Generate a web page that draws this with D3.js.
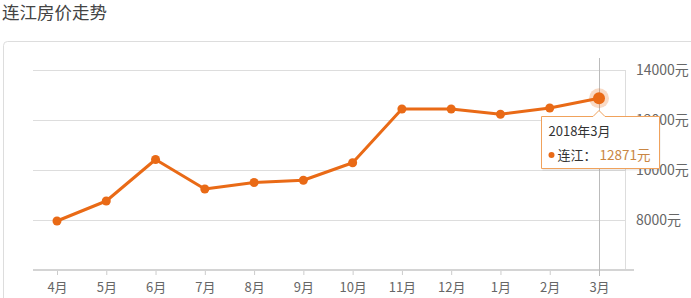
<!DOCTYPE html>
<html>
<head>
<meta charset="utf-8">
<script src="https://cdn.jsdelivr.net/npm/d3@7"></script>
<style>
  body { margin: 0; background: #fff; }
  svg { display: block; font-family: "Noto Sans CJK SC", "Noto Sans", sans-serif; }
</style>
</head>
<body>
<svg width="691" height="298"></svg>
<script>
// data
var months = ["4月", "5月", "6月", "7月", "8月", "9月", "10月", "11月", "12月", "1月", "2月", "3月"];
var prices = [7960, 8760, 10420, 9240, 9500, 9590, 10290, 12440, 12440, 12230, 12480, 12871];
var yTicks = [8000, 10000, 12000, 14000];
var city = "连江";
var tipTitle = "2018年3月";

var svg = d3.select("svg");
var lineColor = "#e96a16";

// title
svg.append("text")
  .attr("x", 2).attr("y", 19)
  .attr("font-size", 17.5).attr("fill", "#444")
  .text("连江房价走势");

// outer panel
svg.append("rect")
  .attr("x", 3.5).attr("y", 41.5)
  .attr("width", 720).attr("height", 300)
  .attr("rx", 4)
  .attr("fill", "#fff").attr("stroke", "#ddd");

var x = d3.scalePoint().domain(months).range([57, 599]);
var y = d3.scaleLinear().domain([6000, 14000]).range([270, 70]);

// grid lines
svg.append("g").selectAll("line")
  .data(yTicks)
  .enter().append("line")
  .attr("x1", 33).attr("x2", 625)
  .attr("y1", function (d) { return Math.round(y(d)) + 0.5; })
  .attr("y2", function (d) { return Math.round(y(d)) + 0.5; })
  .attr("stroke", "#ddd");

// right edge of plot
svg.append("line")
  .attr("x1", 625.5).attr("x2", 625.5)
  .attr("y1", 70).attr("y2", 270)
  .attr("stroke", "#ddd");

// y labels on the right
svg.append("g").selectAll("text")
  .data(yTicks)
  .enter().append("text")
  .attr("x", 636)
  .attr("y", function (d) { return y(d) + 5; })
  .attr("font-size", 14).attr("fill", "#666")
  .text(function (d) { return d + "元"; });

// x axis
var xAxis = d3.axisBottom(x).tickSize(5).tickPadding(8);
var gx = svg.append("g")
  .attr("transform", "translate(0,270)")
  .call(xAxis);
gx.select(".domain").remove();
gx.selectAll(".tick line").attr("stroke", "#ccc");
gx.selectAll(".tick text")
  .attr("font-size", 13).attr("fill", "#666")
  .attr("font-family", "'Noto Sans CJK SC', sans-serif");
svg.append("line")
  .attr("x1", 33).attr("x2", 634)
  .attr("y1", 270).attr("y2", 270)
  .attr("stroke", "#d4d4d4").attr("stroke-width", 2);

// crosshair
var last = months.length - 1;
svg.append("line")
  .attr("x1", x(months[last]) + 0.5).attr("x2", x(months[last]) + 0.5)
  .attr("y1", 58).attr("y2", 276)
  .attr("stroke", "#bbb");

// line
var line = d3.line()
  .x(function (d, i) { return x(months[i]); })
  .y(function (d) { return y(d); });

svg.append("path")
  .datum(prices)
  .attr("d", line)
  .attr("fill", "none")
  .attr("stroke", lineColor)
  .attr("stroke-width", 3)
  .attr("stroke-linejoin", "round");

svg.append("g").selectAll("circle")
  .data(prices)
  .enter().append("circle")
  .attr("cx", function (d, i) { return x(months[i]); })
  .attr("cy", function (d) { return y(d); })
  .attr("r", 4.5)
  .attr("fill", lineColor);

// highlighted point
var hx = x(months[last]), hy = y(prices[last]);
svg.append("circle")
  .attr("cx", hx).attr("cy", hy).attr("r", 10)
  .attr("fill", lineColor).attr("opacity", 0.25);
svg.append("circle")
  .attr("cx", hx).attr("cy", hy).attr("r", 6)
  .attr("fill", lineColor);

// tooltip
var tip = svg.append("g");
var tx = 541.5, ty = 116.5, tw = 118, th = 52;
tip.append("rect")
  .attr("x", tx + 1).attr("y", ty + 2)
  .attr("width", tw).attr("height", th)
  .attr("fill", "#000").attr("opacity", 0.08);
tip.append("path")
  .attr("d", "M" + tx + "," + ty +
    "H" + (hx - 6) + "L" + hx + "," + (ty - 6) + "L" + (hx + 6) + "," + ty +
    "H" + (tx + tw) + "V" + (ty + th) + "H" + tx + "Z")
  .attr("fill", "#fff")
  .attr("stroke", "#f0a25c").attr("stroke-width", 1);
tip.append("text")
  .attr("x", tx + 7).attr("y", ty + 19)
  .attr("font-size", 13).attr("fill", "#333")
  .text(tipTitle);
tip.append("circle")
  .attr("cx", tx + 10).attr("cy", ty + 38.5).attr("r", 3)
  .attr("fill", lineColor);
tip.append("text")
  .attr("x", tx + 16).attr("y", ty + 43)
  .attr("font-size", 13).attr("fill", "#333")
  .text(city + "：");
tip.append("text")
  .attr("x", tx + 58).attr("y", ty + 43)
  .attr("font-size", 13.5).attr("fill", "#c98643")
  .text(prices[last] + "元");
</script>
</body>
</html>
